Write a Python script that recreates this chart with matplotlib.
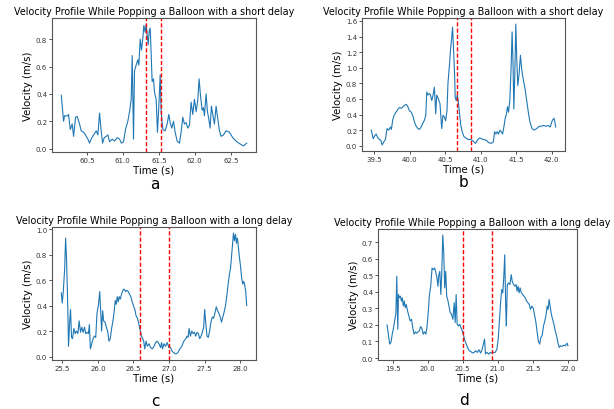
import matplotlib
matplotlib.use("Agg")
import matplotlib.pyplot as plt
from matplotlib.ticker import MultipleLocator

# ---------------- data ----------------
a_t = [60.144, 60.176, 60.190, 60.236, 60.245, 60.269, 60.296, 60.315, 60.343, 60.366, 60.398, 60.421,
       60.454, 60.481, 60.514, 60.537, 60.560, 60.593, 60.630, 60.653, 60.676, 60.699, 60.718, 60.741,
       60.769, 60.792, 60.815, 60.852, 60.884, 60.921, 60.954, 60.981, 61.009, 61.037, 61.069, 61.093,
       61.116, 61.130, 61.148, 61.162, 61.185, 61.208, 61.222, 61.241, 61.259, 61.278, 61.292, 61.310,
       61.324, 61.338, 61.352, 61.366, 61.380, 61.394, 61.407, 61.426, 61.440, 61.463, 61.481, 61.500,
       61.519, 61.532, 61.556, 61.588, 61.616, 61.639, 61.657, 61.681, 61.704, 61.727, 61.755, 61.787,
       61.810, 61.833, 61.856, 61.880, 61.903, 61.926, 61.949, 61.972, 61.995, 62.019, 62.042, 62.060,
       62.079, 62.102, 62.120, 62.134, 62.157, 62.176, 62.194, 62.213, 62.231, 62.250, 62.273, 62.296,
       62.319, 62.343, 62.366, 62.398, 62.435, 62.481, 62.528, 62.583, 62.644, 62.676, 62.722]
a_v = [0.39, 0.20, 0.24, 0.24, 0.25, 0.14, 0.18, 0.09, 0.23, 0.235, 0.18, 0.13,
       0.12, 0.10, 0.07, 0.04, 0.07, 0.10, 0.13, 0.10, 0.26, 0.13, 0.04, 0.08,
       0.09, 0.10, 0.05, 0.07, 0.055, 0.08, 0.07, 0.04, 0.05, 0.14, 0.20, 0.27,
       0.36, 0.68, 0.07, 0.57, 0.61, 0.65, 0.61, 0.80, 0.72, 0.81, 0.90, 0.85,
       0.91, 0.83, 0.76, 0.86, 0.88, 0.69, 0.49, 0.51, 0.41, 0.36, 0.12, 0.31,
       0.54, 0.27, 0.14, 0.13, 0.18, 0.25, 0.19, 0.15, 0.20, 0.12, 0.055, 0.04,
       0.12, 0.23, 0.18, 0.19, 0.15, 0.17, 0.34, 0.25, 0.36, 0.27, 0.36, 0.51,
       0.39, 0.28, 0.30, 0.24, 0.40, 0.27, 0.22, 0.15, 0.31, 0.25, 0.18, 0.31,
       0.22, 0.13, 0.09, 0.10, 0.13, 0.12, 0.08, 0.05, 0.03, 0.02, 0.04]
a_marks = [61.324, 61.528]

b_t = [39.460, 39.488, 39.511, 39.530, 39.553, 39.576, 39.595, 39.613, 39.637, 39.660, 39.683, 39.707,
       39.730, 39.744, 39.762, 39.781, 39.809, 39.837, 39.860, 39.883, 39.907, 39.930, 39.953, 39.976,
       39.995, 40.023, 40.046, 40.069, 40.093, 40.116, 40.139, 40.162, 40.181, 40.209, 40.227, 40.241,
       40.255, 40.274, 40.293, 40.311, 40.330, 40.348, 40.367, 40.381, 40.404, 40.427, 40.451, 40.469,
       40.488, 40.507, 40.525, 40.539, 40.558, 40.576, 40.590, 40.604, 40.618, 40.632, 40.641, 40.655,
       40.669, 40.683, 40.702, 40.720, 40.739, 40.762, 40.790, 40.823, 40.860, 40.893, 40.925, 40.953,
       40.981, 41.009, 41.041, 41.079, 41.112, 41.149, 41.177, 41.195, 41.214, 41.232, 41.251, 41.270,
       41.288, 41.307, 41.325, 41.344, 41.362, 41.376, 41.390, 41.409, 41.427, 41.441, 41.455, 41.465,
       41.479, 41.493, 41.507, 41.521, 41.539, 41.558, 41.577, 41.600, 41.623, 41.646, 41.669, 41.693,
       41.721, 41.753, 41.786, 41.823, 41.855, 41.883, 41.916, 41.948, 41.976, 42.009, 42.032, 42.055]
b_v = [0.20, 0.09, 0.13, 0.15, 0.10, 0.08, 0.07, 0.01, 0.05, 0.08, 0.22, 0.20,
       0.24, 0.21, 0.33, 0.39, 0.43, 0.47, 0.49, 0.48, 0.50, 0.52, 0.53, 0.50,
       0.45, 0.43, 0.38, 0.30, 0.25, 0.22, 0.21, 0.24, 0.28, 0.33, 0.39, 0.69,
       0.65, 0.67, 0.65, 0.58, 0.65, 0.75, 0.41, 0.65, 0.60, 0.54, 0.22, 0.39,
       0.37, 0.32, 0.45, 0.80, 1.01, 1.24, 1.37, 1.52, 1.22, 0.92, 0.62, 0.58,
       0.65, 0.58, 0.41, 0.26, 0.18, 0.12, 0.10, 0.08, 0.08, 0.06, 0.03, 0.07,
       0.10, 0.09, 0.08, 0.07, 0.04, 0.03, 0.05, 0.18, 0.15, 0.18, 0.15, 0.20,
       0.18, 0.15, 0.24, 0.35, 0.41, 0.50, 0.43, 0.58, 1.01, 1.46, 1.01, 0.47,
       0.92, 1.56, 1.10, 0.77, 0.92, 1.16, 0.97, 0.84, 0.73, 0.58, 0.43, 0.30,
       0.22, 0.20, 0.22, 0.25, 0.25, 0.26, 0.25, 0.26, 0.24, 0.33, 0.35, 0.24]
b_marks = [40.660, 40.860]

c_t = [25.486, 25.500, 25.514, 25.533, 25.547, 25.560, 25.574, 25.588, 25.602, 25.616, 25.630, 25.644,
       25.663, 25.681, 25.700, 25.719, 25.737, 25.756, 25.774, 25.793, 25.812, 25.830, 25.849, 25.867,
       25.881, 25.895, 25.914, 25.933, 25.951, 25.970, 25.988, 26.007, 26.026, 26.040, 26.053, 26.067,
       26.081, 26.100, 26.119, 26.137, 26.156, 26.174, 26.193, 26.212, 26.230, 26.244, 26.258, 26.272,
       26.286, 26.300, 26.314, 26.333, 26.351, 26.370, 26.388, 26.407, 26.426, 26.444, 26.463, 26.481,
       26.500, 26.519, 26.537, 26.556, 26.574, 26.593, 26.612, 26.630, 26.644, 26.658, 26.677, 26.695,
       26.719, 26.742, 26.765, 26.788, 26.812, 26.835, 26.858, 26.881, 26.895, 26.909, 26.928, 26.951,
       26.974, 26.998, 27.021, 27.044, 27.067, 27.095, 27.123, 27.151, 27.179, 27.207, 27.235, 27.253,
       27.267, 27.281, 27.300, 27.319, 27.337, 27.356, 27.374, 27.393, 27.412, 27.430, 27.449, 27.467,
       27.486, 27.500, 27.514, 27.533, 27.551, 27.570, 27.588, 27.607, 27.626, 27.644, 27.663, 27.681,
       27.700, 27.719, 27.737, 27.756, 27.774, 27.793, 27.812, 27.830, 27.849, 27.863, 27.877, 27.891,
       27.905, 27.919, 27.933, 27.947, 27.960, 27.974, 27.988, 28.002, 28.021, 28.035, 28.049, 28.063,
       28.077, 28.091]
c_v = [0.50, 0.42, 0.51, 0.68, 0.93, 0.76, 0.47, 0.08, 0.26, 0.37, 0.15, 0.14,
       0.22, 0.18, 0.20, 0.18, 0.28, 0.19, 0.23, 0.19, 0.23, 0.18, 0.19, 0.18,
       0.25, 0.06, 0.10, 0.14, 0.16, 0.15, 0.34, 0.40, 0.51, 0.34, 0.20, 0.36,
       0.28, 0.27, 0.23, 0.20, 0.12, 0.14, 0.22, 0.28, 0.36, 0.44, 0.41, 0.47,
       0.43, 0.47, 0.45, 0.49, 0.52, 0.53, 0.51, 0.52, 0.51, 0.49, 0.47, 0.43,
       0.40, 0.37, 0.32, 0.30, 0.26, 0.21, 0.16, 0.14, 0.12, 0.06, 0.12, 0.08,
       0.10, 0.07, 0.06, 0.08, 0.11, 0.12, 0.10, 0.07, 0.11, 0.06, 0.10, 0.08,
       0.11, 0.07, 0.07, 0.04, 0.03, 0.02, 0.03, 0.06, 0.08, 0.12, 0.14, 0.16,
       0.15, 0.22, 0.16, 0.20, 0.18, 0.19, 0.16, 0.19, 0.18, 0.14, 0.16, 0.19,
       0.23, 0.37, 0.27, 0.16, 0.15, 0.20, 0.27, 0.31, 0.30, 0.34, 0.39, 0.36,
       0.34, 0.31, 0.27, 0.31, 0.35, 0.40, 0.48, 0.57, 0.65, 0.69, 0.78, 0.86,
       0.97, 0.91, 0.96, 0.89, 0.93, 0.86, 0.78, 0.72, 0.61, 0.57, 0.59, 0.56,
       0.51, 0.40]
c_marks = [26.593, 26.998]

d_t = [19.421, 19.440, 19.458, 19.477, 19.495, 19.514, 19.533, 19.547, 19.560, 19.574, 19.584, 19.598,
       19.612, 19.626, 19.640, 19.653, 19.667, 19.681, 19.695, 19.714, 19.733, 19.751, 19.770, 19.788,
       19.807, 19.826, 19.844, 19.863, 19.881, 19.900, 19.919, 19.937, 19.956, 19.974, 19.993, 20.012,
       20.026, 20.044, 20.063, 20.081, 20.100, 20.119, 20.133, 20.147, 20.160, 20.174, 20.188, 20.202,
       20.216, 20.230, 20.244, 20.258, 20.272, 20.286, 20.305, 20.323, 20.342, 20.360, 20.379, 20.393,
       20.407, 20.421, 20.440, 20.458, 20.477, 20.495, 20.514, 20.533, 20.551, 20.570, 20.593, 20.616,
       20.640, 20.663, 20.686, 20.709, 20.733, 20.756, 20.779, 20.798, 20.812, 20.826, 20.849, 20.872,
       20.895, 20.919, 20.942, 20.965, 20.988, 21.007, 21.026, 21.044, 21.058, 21.072, 21.086, 21.100,
       21.114, 21.123, 21.137, 21.156, 21.174, 21.193, 21.207, 21.226, 21.244, 21.263, 21.277, 21.291,
       21.305, 21.319, 21.337, 21.356, 21.374, 21.393, 21.412, 21.430, 21.449, 21.467, 21.486, 21.505,
       21.523, 21.542, 21.560, 21.579, 21.598, 21.616, 21.635, 21.653, 21.672, 21.691, 21.705, 21.719,
       21.733, 21.747, 21.765, 21.784, 21.802, 21.821, 21.840, 21.858, 21.877, 21.895, 21.919, 21.942,
       21.965, 21.988, 22.002]
d_v = [0.200, 0.144, 0.084, 0.094, 0.144, 0.184, 0.234, 0.270, 0.494, 0.174, 0.384, 0.364,
       0.374, 0.344, 0.364, 0.314, 0.344, 0.304, 0.324, 0.284, 0.254, 0.224, 0.234, 0.184,
       0.144, 0.158, 0.150, 0.158, 0.164, 0.190, 0.178, 0.144, 0.158, 0.144, 0.194, 0.294,
       0.384, 0.434, 0.544, 0.534, 0.544, 0.514, 0.484, 0.434, 0.504, 0.524, 0.384, 0.514,
       0.744, 0.634, 0.424, 0.524, 0.374, 0.354, 0.314, 0.274, 0.264, 0.234, 0.334, 0.214,
       0.384, 0.204, 0.194, 0.204, 0.184, 0.164, 0.134, 0.104, 0.084, 0.064, 0.044, 0.040,
       0.030, 0.034, 0.044, 0.034, 0.050, 0.030, 0.054, 0.090, 0.114, 0.024, 0.034, 0.024,
       0.034, 0.030, 0.034, 0.034, 0.054, 0.114, 0.234, 0.354, 0.414, 0.394, 0.484, 0.624,
       0.314, 0.194, 0.444, 0.454, 0.444, 0.504, 0.464, 0.444, 0.434, 0.444, 0.404, 0.434,
       0.394, 0.424, 0.394, 0.384, 0.374, 0.364, 0.344, 0.334, 0.324, 0.294, 0.314, 0.304,
       0.264, 0.224, 0.164, 0.104, 0.084, 0.124, 0.138, 0.194, 0.224, 0.264, 0.314, 0.294,
       0.354, 0.314, 0.264, 0.234, 0.204, 0.164, 0.134, 0.094, 0.064, 0.074, 0.070, 0.078,
       0.074, 0.090, 0.074]
d_marks = [20.510, 20.919]

title_short = "Velocity Profile While Popping a Balloon with a short delay"
title_long = "Velocity Profile While Popping a Balloon with a long delay"
xlabel = "Time (s)"
ylabel = "Velocity (m/s)"

# ---------------- figure ----------------
W, H = 614, 410
fig = plt.figure(figsize=(W / 100, H / 100), dpi=100)


def px_axes(left, top, right, bottom):
    return fig.add_axes([left / W, 1 - bottom / H, (right - left) / W, (bottom - top) / H])


panels = [
    dict(box=(52, 19, 256, 153), t=a_t, v=a_v, marks=a_marks, title=title_short, tx=0.5,
         xstep=0.5, ystep=0.2, letter="a", lpos=(155, 185)),
    dict(box=(362, 19, 565, 152), t=b_t, v=b_v, marks=b_marks, title=title_short, tx=0.5,
         xstep=0.5, ystep=0.2, letter="b", lpos=(464, 183)),
    dict(box=(52, 228, 256, 361), t=c_t, v=c_v, marks=c_marks, title=title_long, tx=0.5,
         xstep=0.5, ystep=0.2, letter="c", lpos=(155, 402)),
    dict(box=(378, 230, 577, 361), t=d_t, v=d_v, marks=d_marks, title=title_long, tx=0.475,
         xstep=0.5, ystep=0.1, letter="d", lpos=(464, 401)),
]

for p in panels:
    ax = px_axes(*p["box"])
    ax.plot(p["t"], p["v"], color="#1f77b4", lw=0.8)
    for m in p["marks"]:
        ax.axvline(m, color="red", ls="--", lw=1.0, dashes=(3, 1.5))
    ax.xaxis.set_major_locator(MultipleLocator(p["xstep"]))
    ax.yaxis.set_major_locator(MultipleLocator(p["ystep"]))
    ax.tick_params(labelsize=5, length=2, width=0.6, pad=1.5, colors="#333333")
    for s in ax.spines.values():
        s.set_linewidth(0.8)
        s.set_color("#555555")
    ax.set_title(p["title"], fontsize=6.9, pad=3, x=p["tx"])
    ax.set_xlabel(xlabel, fontsize=7.3, labelpad=1)
    ax.set_ylabel(ylabel, fontsize=7.3, labelpad=2)
    lx, ly = p["lpos"]
    fig.text(lx / W, 1 - ly / H, p["letter"], ha="center", va="center", fontsize=11)

fig.savefig("out.png", dpi=100)
